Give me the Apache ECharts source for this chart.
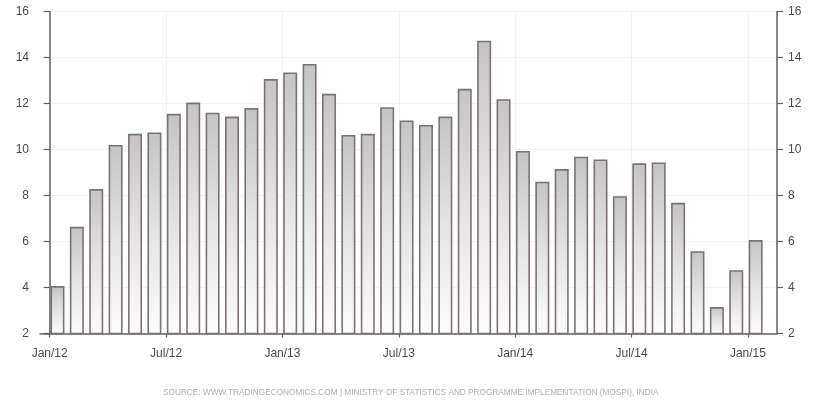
<!DOCTYPE html>
<html>
<head>
<meta charset="utf-8">
<script src="https://cdn.jsdelivr.net/npm/echarts@6/dist/echarts.min.js"></script>
<style>
html,body{margin:0;padding:0;background:#fff;}
#c{width:815px;height:410px;}
</style>
</head>
<body>
<div id="c"></div>
<script>
var months = ['Jan/12','Feb/12','Mar/12','Apr/12','May/12','Jun/12','Jul/12','Aug/12','Sep/12','Oct/12','Nov/12','Dec/12',
  'Jan/13','Feb/13','Mar/13','Apr/13','May/13','Jun/13','Jul/13','Aug/13','Sep/13','Oct/13','Nov/13','Dec/13',
  'Jan/14','Feb/14','Mar/14','Apr/14','May/14','Jun/14','Jul/14','Aug/14','Sep/14','Oct/14','Nov/14','Dec/14',
  'Jan/15'];
var values = [4.06, 6.64, 8.28, 10.2, 10.68, 10.74, 11.55, 12.04, 11.6, 11.43, 11.8, 13.06,
  13.35, 13.72, 12.42, 10.63, 10.68, 11.84, 11.26, 11.07, 11.43, 12.64, 14.73, 12.19,
  9.94, 8.6, 9.15, 9.69, 9.57, 7.97, 9.4, 9.44, 7.68, 5.58, 3.15, 4.75,
  6.06];
var tickMonths = [0, 6, 12, 18, 24, 30, 36];
var sourceText = 'SOURCE: WWW.TRADINGECONOMICS.COM | MINISTRY OF STATISTICS AND PROGRAMME IMPLEMENTATION (MOSPI), INDIA';

var barData = values.map(function (v, i) { return [i + 0.4, v]; });

var chart = echarts.init(document.getElementById('c'), null, {renderer: 'canvas'});
var axisColor = '#665e5e';
var labelColor = '#4e4949';
var yAxisCommon = {
  type: 'value', min: 2, max: 16, interval: 2,
  axisLine: {show: true, lineStyle: {color: axisColor, width: 1.5}},
  axisTick: {show: true, length: 6, lineStyle: {color: axisColor, width: 1.2}},
  axisLabel: {color: labelColor, fontSize: 12, fontFamily: 'Liberation Sans', margin: 11},
  splitLine: {show: false}
};
chart.setOption({
  animation: false,
  backgroundColor: '#ffffff',
  grid: {left: 40, right: 38, top: 11.5, bottom: 76.5, containLabel: false},
  xAxis: {
    type: 'value', min: -0.5, max: 37.5,
    axisLine: {show: true, onZero: false, lineStyle: {color: axisColor, width: 1.5}},
    axisTick: {show: true, length: 4, customValues: tickMonths, lineStyle: {color: axisColor, width: 1.2}},
    axisLabel: {
      customValues: tickMonths, color: labelColor, fontSize: 12, fontFamily: 'Liberation Sans', margin: 14,
      formatter: function (v) { return months[Math.round(v)] || ''; }
    },
    splitLine: {show: true, lineStyle: {color: '#f2f2f2', width: 1}}
  },
  yAxis: [
    Object.assign({}, yAxisCommon, {position: 'left', splitLine: {show: true, lineStyle: {color: '#f3f3f3', width: 1}}}),
    Object.assign({}, yAxisCommon, {position: 'right'})
  ],
  series: [{
    type: 'bar',
    data: barData,
    barWidth: 14,
    itemStyle: {
      color: new echarts.graphic.LinearGradient(0, 0, 0, 1, [
        {offset: 0, color: '#c4c4c4'},
        {offset: 0.5, color: '#e4e4e4'},
        {offset: 1, color: '#fcfcfc'}
      ]),
      borderColor: '#7d7272',
      borderWidth: 1.6
    }
  }],
  graphic: [{
    type: 'text', left: 163, top: 389,
    style: {text: sourceText, fill: '#b3adad', fontSize: 8.25, fontFamily: 'Liberation Sans'}
  }]
});
</script>
</body>
</html>
